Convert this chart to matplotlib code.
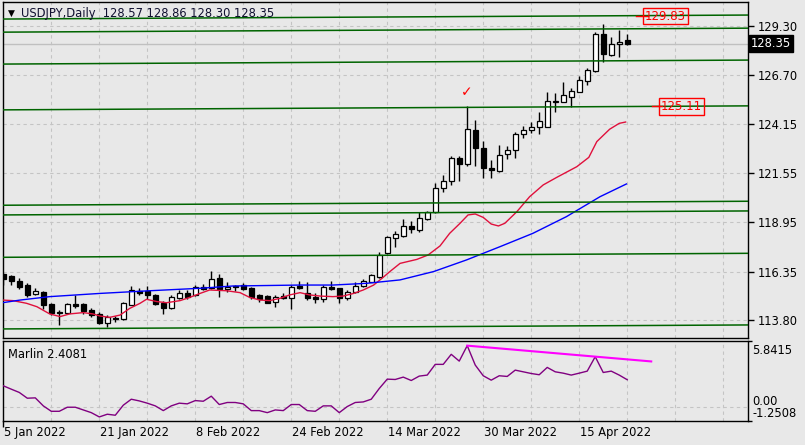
import numpy as np
import matplotlib.pyplot as plt
from matplotlib import transforms

plt.rcParams['font.family'] = 'DejaVu Sans'
plt.rcParams['font.size'] = 8

# USDJPY daily bars, 5 Jan 2022 .. 25 Apr 2022
opens = [116.25, 116.13, 115.88, 115.63, 115.20, 115.28, 114.65, 114.24, 114.20, 114.65,
         114.63, 114.35, 114.11, 113.67, 113.92, 113.88, 114.62, 115.35, 115.32, 115.11,
         114.72, 114.46, 114.97, 115.25, 115.11, 115.55, 115.49, 116.02, 115.46, 115.60,
         115.63, 115.49, 115.10, 115.07, 114.74, 115.07, 114.99, 115.62, 115.21, 115.04,
         114.90, 115.56, 115.48, 114.95, 115.30, 115.62, 115.83, 116.09, 117.32, 118.14,
         118.25, 118.76, 118.55, 119.13, 119.48, 120.78, 121.13, 122.35, 122.02, 123.81,
         122.88, 121.83, 121.65, 122.53, 122.76, 123.58, 123.81, 123.95, 123.99, 125.30,
         125.30, 125.56, 125.83, 126.41, 126.93, 128.86, 127.76, 128.32, 128.57]
highs = [116.30, 116.16, 116.02, 115.77, 115.49, 115.32, 114.72, 114.32, 114.72, 115.11,
         114.72, 114.44, 114.23, 114.06, 114.02, 114.76, 115.60, 115.49, 115.60, 115.20,
         114.79, 115.11, 115.37, 115.37, 115.63, 115.72, 116.37, 116.25, 115.81, 115.67,
         115.77, 115.55, 115.18, 115.13, 115.13, 115.21, 115.65, 115.86, 115.83, 115.21,
         115.65, 115.86, 115.51, 115.39, 115.83, 115.97, 116.21, 117.37, 118.25, 118.50,
         119.13, 119.02, 119.48, 119.55, 121.00, 121.44, 122.46, 122.46, 125.09, 124.34,
         123.23, 122.23, 123.02, 122.99, 123.68, 124.04, 124.25, 124.74, 125.79, 125.74,
         126.35, 126.04, 126.67, 127.06, 128.99, 129.37, 128.72, 129.07, 128.86]
lows = [115.65, 115.67, 115.46, 115.02, 115.14, 114.41, 114.06, 113.53, 114.14, 114.46,
        114.14, 113.97, 113.58, 113.44, 113.70, 113.79, 114.58, 115.11, 114.93, 114.58,
        114.14, 114.41, 114.90, 114.90, 115.06, 115.37, 115.46, 115.02, 115.28, 115.32,
        115.37, 114.90, 114.77, 114.69, 114.51, 114.92, 114.39, 115.44, 114.86, 114.69,
        114.78, 115.39, 114.69, 114.86, 115.21, 115.56, 115.79, 116.04, 117.27, 117.67,
        118.20, 118.37, 118.46, 119.07, 119.42, 120.57, 120.92, 121.13, 121.93, 121.93,
        121.30, 121.27, 121.58, 122.28, 122.35, 123.41, 123.63, 123.58, 123.95, 124.74,
        125.27, 125.04, 125.79, 126.18, 126.88, 127.41, 127.72, 127.67, 128.30]
closes = [115.95, 115.85, 115.55, 115.11, 115.32, 114.62, 114.20, 114.20, 114.67, 114.55,
          114.27, 114.06, 113.67, 113.97, 113.88, 114.72, 115.37, 115.25, 115.11, 114.67,
          114.46, 115.02, 115.25, 115.04, 115.55, 115.42, 115.99, 115.46, 115.56, 115.53,
          115.46, 115.02, 114.92, 114.72, 115.04, 114.95, 115.56, 115.51, 114.95, 114.92,
          115.56, 115.44, 114.95, 115.30, 115.62, 115.86, 116.18, 117.23, 118.20, 118.32,
          118.76, 118.58, 119.16, 119.48, 120.78, 121.13, 122.35, 122.02, 123.86, 122.85,
          121.79, 121.69, 122.49, 122.76, 123.60, 123.81, 123.97, 124.28, 125.34, 125.32,
          125.65, 125.86, 126.44, 126.97, 128.86, 127.79, 128.32, 128.42, 128.35]

# moving averages, sampled along the drawn lines (bar number, price)
ma_fast_x = [-0.1, 1.2, 2.9, 4.2, 5.8, 7.1, 8.3, 10, 11.2, 12.1, 13.3, 14.6, 15.8, 17.1, 17.9,
             19.2, 20.4, 22.1, 23.3, 24.6, 25.8, 27.9, 29.6, 30.8, 32.1, 33.3, 34.6, 35.8,
             37.1, 38.3, 39.6, 41.2, 42.5, 43.8, 45, 46.3, 47.5, 48.3, 49.6, 51.7, 53.1,
             54.6, 55.8, 57.1, 58.1, 59, 60, 61, 61.9, 62.7, 64.2, 65.8, 67.5, 69.2, 71.7,
             73.2, 74.2, 75.8, 77, 77.8]
ma_fast_y = [114.86, 114.83, 114.69, 114.51, 114.13, 113.99, 114.13, 114.20, 114.13, 114.02,
             113.95, 114.07, 114.42, 114.69, 114.90, 114.78, 114.72, 114.83, 115.00, 115.21,
             115.39, 115.35, 115.25, 115.00, 114.86, 114.83, 114.95, 115.13, 115.25, 115.13,
             115.07, 115.04, 115.07, 115.21, 115.39, 115.65, 116.06, 116.35, 116.79, 117.00,
             117.23, 117.71, 118.37, 118.90, 119.34, 119.39, 119.21, 118.86, 118.76, 118.90,
             119.51, 120.30, 120.92, 121.32, 121.88, 122.37, 123.20, 123.85, 124.16, 124.23]
ma_slow_x = [-0.1, 2.1, 5.8, 12.1, 18.3, 24.6, 28.7, 37.1, 41.2, 45.4, 49.6, 53.8, 57.9,
             62.1, 66.2, 70.4, 74.6, 77.9]
ma_slow_y = [114.72, 114.86, 115.04, 115.21, 115.35, 115.48, 115.60, 115.65, 115.65, 115.74,
             115.92, 116.36, 116.97, 117.67, 118.37, 119.25, 120.30, 120.97]

# horizontal levels (value at right edge) and their small rise across the chart
levels = [129.86, 129.17, 127.49, 125.08, 120.06, 119.55, 117.32, 113.55]
level_rise = 0.21
marked = [129.83, 125.11]

price_ticks = [129.30, 126.70, 124.15, 121.55, 118.95, 116.35, 113.80]
last_price = 128.35

marlin = [1.87, 1.57, 1.28, 0.77, 0.80, 0.09, -0.39, -0.39, -0.03, -0.03,
          -0.27, -0.51, -0.89, -0.65, -0.74, 0.15, 0.68, 0.53, 0.33, 0.09,
          -0.33, 0.09, 0.33, 0.27, 0.56, 0.50, 0.95, 0.21, 0.39, 0.39,
          0.27, -0.33, -0.33, -0.51, -0.27, -0.33, 0.21, 0.21, -0.33, -0.39,
          0.09, 0.09, -0.51, 0.03, 0.39, 0.44, 0.68, 1.63, 2.46, 2.43,
          2.64, 2.34, 2.73, 2.82, 3.77, 3.77, 4.66, 4.06, 5.43, 3.71,
          2.76, 2.37, 2.76, 2.70, 3.26, 3.11, 2.96, 2.85, 3.50, 3.11,
          2.99, 2.82, 2.99, 3.17, 4.45, 3.05, 3.17, 2.82, 2.4081]
marlin_trend_x = [58, 81]
marlin_trend_y = [5.43, 4.03]
marlin_max, marlin_min = 5.8415, -1.2508

date_idx = [0, 12, 24, 36, 48, 60, 72]
date_lbl = ['5 Jan 2022', '21 Jan 2022', '8 Feb 2022', '24 Feb 2022',
            '14 Mar 2022', '30 Mar 2022', '15 Apr 2022']

bg = '#e8e8e8'
grid_c = '#c4c4c4'
W, H = 805, 445

fig = plt.figure(figsize=(W / 100, H / 100), dpi=100, facecolor=bg)
ax = fig.add_axes([2.5 / W, 1 - 338 / H, 745.5 / W, 336 / H])
ax2 = fig.add_axes([2.5 / W, 1 - 421 / H, 745.5 / W, 80 / H])
for a in (ax, ax2):
    a.set_facecolor(bg)
    for s in a.spines.values():
        s.set_color('black')
        s.set_linewidth(1)

x0, x1 = -0.1, 93.1
n = len(closes)
idx = np.arange(n)
o = np.array(opens)
c = np.array(closes)

# ---- price panel
ax.set_xlim(x0, x1)
ax.set_ylim(112.863, 130.547)
ax.set_xticks(np.arange(6, 93, 6))
ax.set_yticks(price_ticks)
ax.set_yticklabels(['%.2f' % v for v in price_ticks])
ax.yaxis.tick_right()
ax.tick_params(axis='y', length=4, width=1, pad=3, labelsize=8.3, colors='black')
ax.tick_params(axis='x', length=0, labelbottom=False)
ax.grid(True, ls=(0, (3, 3)), color=grid_c, lw=0.8, zorder=0)
ax.set_axisbelow(True)

ax.axhline(last_price, color='#c0c0c0', lw=1, zorder=1)

ax.vlines(idx, lows, highs, color='black', lw=1, zorder=2)
body_lo = np.minimum(o, c)
body_h = np.maximum(np.abs(c - o), 0.025)
ax.bar(idx, body_h, bottom=body_lo, width=0.62,
       color=np.where(c >= o, 'white', 'black'), edgecolor='black', linewidth=0.9, zorder=3)

ax.plot(ma_fast_x, ma_fast_y, color='#e0103c', lw=1, zorder=4)
ax.plot(ma_slow_x, ma_slow_y, color='#0000ff', lw=1, zorder=4)

for lv in levels:
    ax.plot([x0, x1], [lv - level_rise, lv], color='#006400', lw=1.1, zorder=5)

# marked levels
ax.plot([79.1, 80.6], [marked[0], marked[0]], color='red', lw=1, zorder=6)
ax.text(82.8, marked[0] - 0.02, '%.2f' % marked[0], color='red', fontsize=8.5,
        ha='center', va='center', zorder=7,
        bbox=dict(facecolor='none', edgecolor='red', pad=1.2, lw=1))
ax.plot([81.1, 82.4], [marked[1] - 0.04, marked[1] - 0.04], color='red', lw=1, zorder=6)
ax.text(84.8, marked[1] - 0.06, '%.2f' % marked[1], color='red', fontsize=8.5,
        ha='center', va='center', zorder=7,
        bbox=dict(facecolor='none', edgecolor='red', pad=1.2, lw=1))
ax.text(57.9, 125.8, '\u2713', color='red', fontsize=10, fontweight='bold',
        ha='center', va='center', zorder=7)

trans = transforms.blended_transform_factory(ax.transAxes, ax.transData)
ax.text(1.004, last_price, '%.2f' % last_price, transform=trans, color='white',
        fontsize=8.3, ha='left', va='center', zorder=8, clip_on=False,
        bbox=dict(facecolor='black', edgecolor='black', pad=1.3))

fig.text(8 / W, 1 - 13 / H, '\u25bc', fontsize=6.5, va='center', ha='left')
fig.text(21 / W, 1 - 13 / H, 'USDJPY,Daily  128.57 128.86 128.30 128.35',
         fontsize=8.3, va='center', ha='left', color='#101030')

# ---- indicator panel
ax2.set_xlim(x0, x1)
ax2.set_ylim(marlin_min, marlin_max)
ax2.set_xticks(np.arange(6, 93, 6))
ax2.set_xticks(date_idx, minor=True)
ax2.tick_params(axis='x', which='major', length=0, labelbottom=False)
ax2.tick_params(axis='x', which='minor', length=4, width=1, direction='out', labelbottom=False)
ax2.grid(True, which='major', axis='x', ls=(0, (3, 3)), color=grid_c, lw=0.8)
ax2.set_axisbelow(True)
ax2.axhline(0, ls=(0, (3, 3)), color=grid_c, lw=0.8, zorder=0)
ax2.set_yticks([marlin_max, marlin_min])
ax2.yaxis.tick_right()
ax2.tick_params(axis='y', length=3, width=1, labelright=False)

ax2.plot(idx, marlin, color='#800080', lw=1, zorder=3)
ax2.plot(marlin_trend_x, marlin_trend_y, color='#ff00ff', lw=1.5, zorder=4)

fig.text(8 / W, 1 - 355 / H, 'Marlin %.4f' % marlin[-1], fontsize=8.3, va='center', ha='left')
fig.text(752 / W, 1 - 351 / H, '%.4f' % marlin_max, fontsize=8.3, va='center', ha='left')
fig.text(752 / W, 1 - 401.5 / H, '0.00', fontsize=8.3, va='center', ha='left')
fig.text(752 / W, 1 - 413.5 / H, '%.4f' % marlin_min, fontsize=8.3, va='center', ha='left')

for i, lbl in zip(date_idx, date_lbl):
    ax2.text(i + 0.1, -0.14, lbl, transform=transforms.blended_transform_factory(ax2.transData, ax2.transAxes),
             fontsize=8.3, ha='left', va='center')

fig.savefig('out.png', dpi=100, facecolor=bg)
